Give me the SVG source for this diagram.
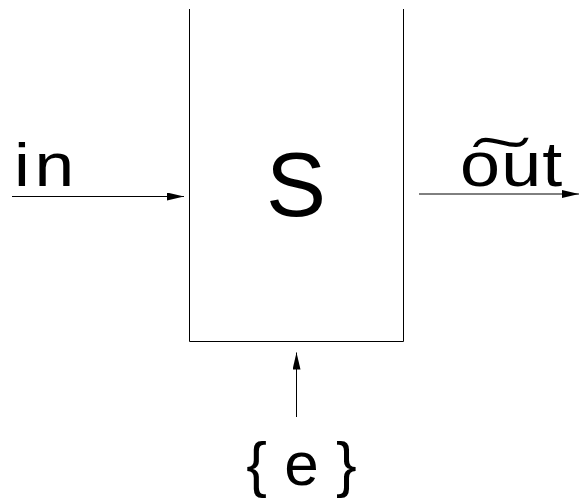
<svg xmlns="http://www.w3.org/2000/svg" width="579" height="498" viewBox="0 0 579 498">
<style>
.t{font-family:"Liberation Sans",Arial,sans-serif;fill:#000}
.ln{stroke:#000;stroke-width:1;fill:none}
</style>
<defs>
<marker id="ah" markerUnits="userSpaceOnUse" markerWidth="18" markerHeight="10" refX="17" refY="4" orient="auto">
<path d="M0,0 L17,4 L0,8 Z" fill="#000"/>
</marker>
</defs>
<rect width="579" height="498" fill="#fff"/>
<g id="S">
<path class="ln" d="M189.5,9 V341.5 H403.5 V9"/>
<text class="t" x="296" y="216" font-size="90" text-anchor="middle">S</text>
</g>
<g id="in">
<text class="t" transform="translate(14,186) scale(1.15,1)" font-size="62" letter-spacing="4">in</text>
</g>
<g id="out">
<text class="t" transform="translate(460,186) scale(1.16,1)" font-size="62" letter-spacing="1">o͠ut</text>
</g>
<g id="e">
<text class="t" x="301.5" y="485" font-size="62" text-anchor="middle">{ e }</text>
</g>
<g id="connectors">
<line class="ln" x1="12" y1="196.5" x2="184" y2="196.5" marker-end="url(#ah)"/>
<line class="ln" x1="419" y1="194" x2="579" y2="194" marker-end="url(#ah)"/>
<line class="ln" x1="296.5" y1="417" x2="296.5" y2="352.5" marker-end="url(#ah)"/>
</g>
</svg>
